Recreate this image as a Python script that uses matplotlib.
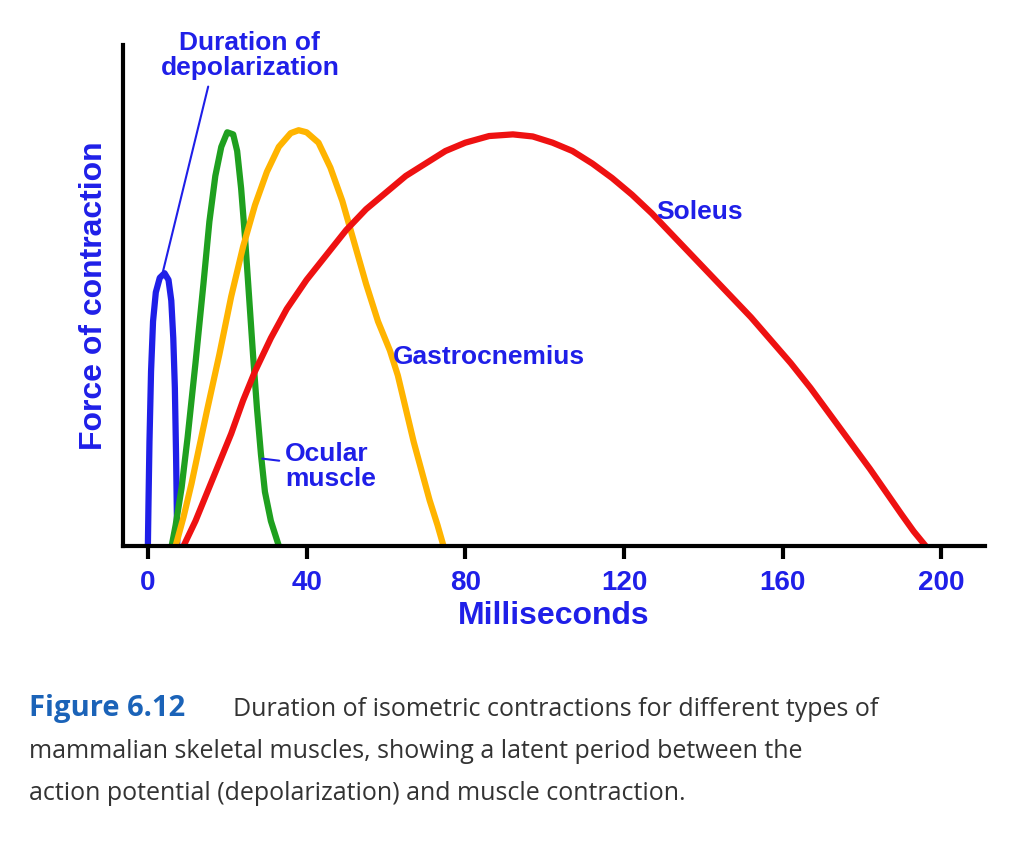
import matplotlib as mpl
mpl.use('Agg')
import matplotlib.pyplot as plt

# curves (ms, relative force)
depol_x = [0, 0.15, 0.4, 0.8, 1.3, 2, 3, 4.2, 5.2, 5.9, 6.4, 6.8, 7.1, 7.3, 7.4]
depol_y = [0, 10, 25, 42, 54, 61, 64.5, 65.6, 64, 59, 50, 38, 22, 8, 0]
ocular_x = [6, 7, 8.5, 10, 12, 14, 15.5, 17, 18.5, 20, 21.5, 22.5, 23.5, 24.5,
            25.5, 26.5, 27.5, 28.5, 29.5, 31, 33]
ocular_y = [0, 5, 14, 26, 44, 63, 78, 89, 96, 99.5, 99, 95, 86, 74,
            60, 46, 33, 22, 13, 6, 0]
gastro_x = [7, 9, 11, 13, 15, 18, 21, 24, 27, 30, 33, 36, 38, 40, 43, 46, 49,
            52, 55, 58, 61, 63, 65, 67, 69, 71, 73, 74.5]
gastro_y = [0, 7, 15, 24, 33, 46, 60, 72, 82, 90, 96, 99.3, 100, 99.5, 97, 91, 83,
            73, 63, 54, 47, 41, 33, 25, 18, 11, 5, 0]
soleus_x = [9, 12, 15, 18, 21, 24, 27, 31, 35, 40, 45, 50, 55, 60, 65, 70, 75,
            80, 86, 92, 97, 102, 107, 112, 117, 122, 127, 132, 137, 142, 147,
            152, 157, 162, 167, 172, 177, 182, 186, 190, 193, 196]
soleus_y = [0, 6, 13, 20, 27, 35, 42, 50, 57, 64, 70, 76, 81, 85, 89, 92, 95,
            97, 98.6, 99, 98.5, 97, 95, 92, 88.5, 84.5, 80, 75, 70, 65, 60,
            55, 49.5, 44, 38, 31.5, 25, 18.5, 13, 7.5, 3.5, 0]
xticks = [0, 40, 80, 120, 160, 200]

blue = '#1f1fe8'
lfont = ['Liberation Sans', 'DejaVu Sans']
fig = plt.figure(figsize=(10.24, 8.57), dpi=100)
ax = fig.add_axes([0.120, 0.363, 0.842, 0.584])

lw = 4.5
for xs, ys, c in [(depol_x, depol_y, blue), (ocular_x, ocular_y, '#1fa01f'),
                  (gastro_x, gastro_y, '#ffb400'), (soleus_x, soleus_y, '#ee1111')]:
    ax.plot(xs, ys, color=c, lw=lw, solid_joinstyle='round', solid_capstyle='round')

ax.set_xlim(-6.3, 211)
ax.set_ylim(0, 120.4)
ax.set_xticks(xticks)
ax.set_yticks([])
for s in ['top', 'right']:
    ax.spines[s].set_visible(False)
for s in ['left', 'bottom']:
    ax.spines[s].set_linewidth(3)
ax.tick_params(axis='x', length=9, width=3, direction='out', pad=8)
for lab in ax.get_xticklabels():
    lab.set_fontsize(20)
    lab.set_fontweight('bold')
    lab.set_color(blue)
    lab.set_family(lfont)
ax.set_xlabel('Milliseconds', fontsize=23, fontweight='bold', color=blue,
              labelpad=4, family=lfont)
ax.set_ylabel('Force of contraction', fontsize=23, fontweight='bold', color=blue,
              labelpad=10, family=lfont)

tkw = dict(fontsize=19, fontweight='bold', color=blue, family=lfont)
ax.text(25.7, 118, 'Duration of\ndepolarization', ha='center', va='center',
        linespacing=1.05, **tkw)
ax.annotate('', xy=(3.8, 66), xytext=(15.2, 110.5),
            arrowprops=dict(arrowstyle='-', color=blue, lw=1.5, shrinkA=0, shrinkB=0))
ax.annotate('Ocular\nmuscle', xy=(28.8, 21), xytext=(34.5, 19),
            ha='left', va='center', linespacing=1.05,
            arrowprops=dict(arrowstyle='-', color=blue, lw=1.5, shrinkA=2, shrinkB=0), **tkw)
ax.text(61.8, 45.5, 'Gastrocnemius', ha='left', va='center', **tkw)
ax.text(128, 80.3, 'Soleus', ha='left', va='center', **tkw)

cfont = ['Open Sans', 'DejaVu Sans']
fig.text(0.028, 0.165, 'Figure 6.12', fontsize=21, fontweight='bold',
         color='#1b63b8', family=cfont, va='baseline')
fig.text(0.228, 0.165, 'Duration of isometric contractions for different types of',
         fontsize=18, color='#333333', family=cfont, va='baseline')
fig.text(0.028, 0.115, 'mammalian skeletal muscles, showing a latent period between the',
         fontsize=18, color='#333333', family=cfont, va='baseline')
fig.text(0.028, 0.066, 'action potential (depolarization) and muscle contraction.',
         fontsize=18, color='#333333', family=cfont, va='baseline')

fig.savefig('out.png', dpi=100)
